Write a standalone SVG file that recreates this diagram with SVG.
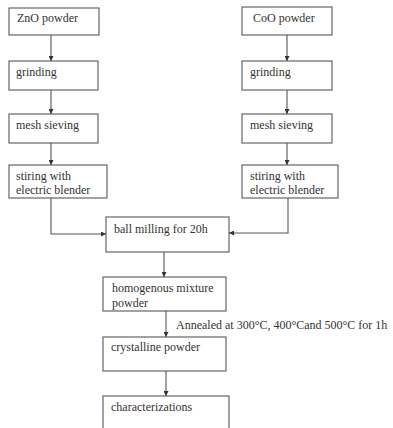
<svg xmlns="http://www.w3.org/2000/svg" width="393" height="428" viewBox="0 0 393 428">
<defs>
<marker id="ah" viewBox="0 0 10 10" refX="10" refY="5" markerWidth="5" markerHeight="5" orient="auto" markerUnits="userSpaceOnUse">
<path d="M0,0 L10,5 L0,10 z" fill="#333"/>
</marker>
<style>
.box{fill:#fff;stroke:#666;stroke-width:1.2}
.t{font-family:"Liberation Serif","Times New Roman",serif;font-size:12px;fill:#333}
.c{fill:none;stroke:#555;stroke-width:1.1;marker-end:url(#ah)}
</style>
</defs>
<rect width="393" height="428" fill="#fff"/>
<g id="n-zno"><rect class="box" x="9" y="8" width="90" height="27"/><text class="t" x="17" y="22">ZnO powder</text></g>
<g id="n-grind-l"><rect class="box" x="9" y="61" width="89" height="29"/><text class="t" x="16" y="76">grinding</text></g>
<g id="n-mesh-l"><rect class="box" x="9" y="114" width="89" height="29"/><text class="t" x="16" y="129">mesh sieving</text></g>
<g id="n-stir-l"><rect class="box" x="9" y="165" width="98" height="33"/><text class="t" x="16" y="180">stiring  with</text><text class="t" x="16" y="194">electric blender</text></g>
<g id="n-coo"><rect class="box" x="242" y="7" width="90" height="28"/><text class="t" x="253" y="22">CoO powder</text></g>
<g id="n-grind-r"><rect class="box" x="242" y="61" width="90" height="29"/><text class="t" x="250" y="76">grinding</text></g>
<g id="n-mesh-r"><rect class="box" x="242" y="114" width="90" height="29"/><text class="t" x="250" y="129">mesh sieving</text></g>
<g id="n-stir-r"><rect class="box" x="242" y="165" width="96" height="33"/><text class="t" x="250" y="180">stiring with</text><text class="t" x="250" y="194">electric blender</text></g>
<g id="n-ball"><rect class="box" x="106" y="217" width="123" height="35"/><text class="t" x="114" y="233">ball milling for 20h</text></g>
<g id="n-homog"><rect class="box" x="103" y="277" width="123" height="34"/><text class="t" x="112" y="292">homogenous mixture</text><text class="t" x="112" y="307">powder</text></g>
<g id="n-cryst"><rect class="box" x="103" y="337" width="123" height="34"/><text class="t" x="111" y="351">crystalline powder</text></g>
<g id="n-char"><rect class="box" x="103" y="396" width="126" height="40"/><text class="t" x="111" y="411">characterizations</text></g>
<g id="connectors">
<path class="c" d="M51,35 V61"/>
<path class="c" d="M51,90 V114"/>
<path class="c" d="M51,143 V165"/>
<path class="c" d="M51,198 V234 H106"/>
<path class="c" d="M287,35 V61"/>
<path class="c" d="M287,90 V114"/>
<path class="c" d="M287,143 V165"/>
<path class="c" d="M288,198 V233 H229"/>
<path class="c" d="M164,252 V277"/>
<path class="c" d="M166,311 V337"/>
<path class="c" d="M166,371 V396"/>
<text class="t" x="176" y="329">Annealed at 300°C, 400°Cand 500°C for 1h</text>
</g>
</svg>
